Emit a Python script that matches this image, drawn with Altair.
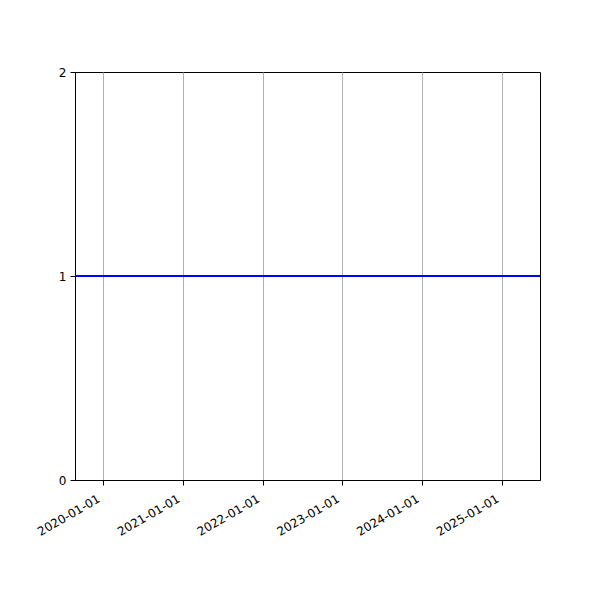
import altair as alt
import pandas as pd

# data
dates = ["2019-08-26", "2025-06-24"]
values = [1, 1]
tick_years = [2020, 2021, 2022, 2023, 2024, 2025]
y_ticks = [0, 1, 2]

df = pd.DataFrame({"date": dates, "value": values})

FONT = "DejaVu Sans"

x_enc = alt.X(
    "date:T",
    scale=alt.Scale(type="utc", domain=[alt.DateTime(year=2019, month=8, date=26, utc=True),
                                        alt.DateTime(year=2025, month=6, date=24, utc=True)],
                    nice=False),
    axis=alt.Axis(
        title=None,
        values=[alt.DateTime(year=y, month=1, date=1, utc=True) for y in tick_years],
        labelExpr="utcFormat(datum.value, '%Y-%m-%d')",
        labelAngle=330,
        labelAlign="right",
        labelBaseline="top",
        labelPadding=8,
        labelOffset=-7,
        grid=True,
        gridColor="#b0b0b0",
        gridWidth=1,
        tickSize=5,
        tickColor="black",
        tickWidth=1,
        domainColor="black",
        domainWidth=1,
        labelFont=FONT,
        labelFontSize=12,
        labelColor="black",
        labelOverlap=False,
        labelFlush=False,
    ),
)

y_enc = alt.Y(
    "value:Q",
    scale=alt.Scale(domain=[0, 2], nice=False, zero=False),
    axis=alt.Axis(
        title=None,
        values=y_ticks,
        labelExpr="format(datum.value, 'd')",
        grid=False,
        tickSize=5,
        tickColor="black",
        tickWidth=1,
        domainColor="black",
        domainWidth=1,
        labelFont=FONT,
        labelFontSize=12,
        labelColor="black",
        labelPadding=4,
        labelOverlap=False,
        labelFlush=False,
    ),
)

chart = (
    alt.Chart(df)
    .mark_line(color="blue", strokeWidth=2, clip=True)
    .encode(x=x_enc, y=y_enc)
    .properties(width=465, height=408, autosize=alt.AutoSizeParams(type="none"),
                padding={"left": 67, "top": 64, "right": 52, "bottom": 104})
    .configure(background="white")
    .configure_view(stroke="black", strokeWidth=1)
)

chart.save("out.html", embed_options={"renderer": "svg", "actions": False})
